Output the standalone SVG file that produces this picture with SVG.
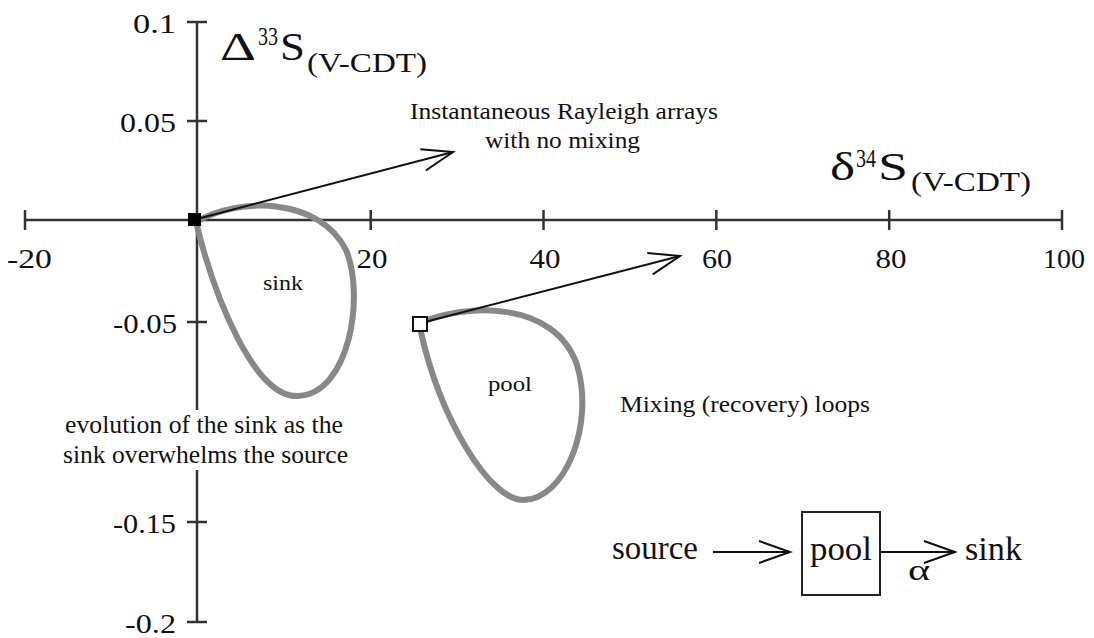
<svg xmlns="http://www.w3.org/2000/svg" width="1094" height="638" viewBox="0 0 1094 638">
<style>
text{font-family:"Liberation Serif","Times New Roman",serif;fill:#111}
.tick{font-size:28px}
.lbl{font-size:22.5px}
.big{font-size:34px}
.axis{stroke:#333;stroke-width:2.5;fill:none}
.loop{stroke:#888;stroke-width:6;fill:none}
.arr{stroke:#111;stroke-width:2;fill:none;marker-end:url(#ah)}
</style>
<defs>
<marker id="ah" markerUnits="userSpaceOnUse" markerWidth="40" markerHeight="30" refX="36" refY="15" orient="auto" viewBox="0 0 40 30">
<path d="M5,4 L36,15 L5,26" fill="none" stroke="#111" stroke-width="2"/>
</marker>
</defs>
<g id="axes">
<path class="axis" d="M25,220 H1062 M25,210 V230 M370.7,210 V230 M543.5,210 V230 M716.3,210 V230 M889.2,210 V230 M1062,210 V230"/>
<path class="axis" d="M197,22 V410 M197,470 V622 M187,22 H207 M187,121 H207 M187,322 H207 M187,522 H207 M187,622 H207"/>
<text class="tick" x="29.5" y="268" text-anchor="middle" textLength="45" lengthAdjust="spacingAndGlyphs">-20</text>
<text class="tick" x="372" y="268" text-anchor="middle" textLength="31" lengthAdjust="spacingAndGlyphs">20</text>
<text class="tick" x="545" y="268" text-anchor="middle" textLength="31" lengthAdjust="spacingAndGlyphs">40</text>
<text class="tick" x="717" y="268" text-anchor="middle" textLength="30" lengthAdjust="spacingAndGlyphs">60</text>
<text class="tick" x="891" y="268" text-anchor="middle" textLength="31" lengthAdjust="spacingAndGlyphs">80</text>
<text class="tick" x="1064" y="268" text-anchor="middle" textLength="42" lengthAdjust="spacingAndGlyphs">100</text>
<text class="tick" x="176" y="33" text-anchor="end" textLength="43" lengthAdjust="spacingAndGlyphs">0.1</text>
<text class="tick" x="176" y="132" text-anchor="end" textLength="56" lengthAdjust="spacingAndGlyphs">0.05</text>
<text class="tick" x="177" y="333" text-anchor="end" textLength="64" lengthAdjust="spacingAndGlyphs">-0.05</text>
<text class="tick" x="176" y="533" text-anchor="end" textLength="63" lengthAdjust="spacingAndGlyphs">-0.15</text>
<text class="tick" x="176" y="633" text-anchor="end" textLength="51" lengthAdjust="spacingAndGlyphs">-0.2</text>
</g>
<g id="y-title">
<text x="220" y="60" style="font-size:41px" textLength="36" lengthAdjust="spacingAndGlyphs">Δ</text>
<text x="258" y="45" style="font-size:25px" textLength="20" lengthAdjust="spacingAndGlyphs">33</text>
<text x="280" y="60" style="font-size:41px" textLength="25" lengthAdjust="spacingAndGlyphs">S</text>
<text x="307" y="72" style="font-size:27px" textLength="120" lengthAdjust="spacingAndGlyphs">(V-CDT)</text>
</g>
<g id="x-title">
<text x="830" y="180" style="font-size:41px" textLength="25" lengthAdjust="spacingAndGlyphs">δ</text>
<text x="856" y="167" style="font-size:25px" textLength="20" lengthAdjust="spacingAndGlyphs">34</text>
<text x="878" y="180" style="font-size:41px" textLength="30" lengthAdjust="spacingAndGlyphs">S</text>
<text x="911" y="191" style="font-size:27px" textLength="120" lengthAdjust="spacingAndGlyphs">(V-CDT)</text>
</g>
<g id="sink-loop">
<path class="loop" d="M196,222 C240,196 320,198 346,250 C365,295 350,395 297,396 C255,397 215,300 196,222 Z"/>
<text x="263" y="290" style="font-size:21px" textLength="40" lengthAdjust="spacingAndGlyphs">sink</text>
</g>
<g id="pool-loop">
<path class="loop" d="M420,323 C465,303 555,300 577,365 C595,425 565,500 523,500 C490,500 440,420 420,328"/>
<text x="488" y="391" style="font-size:21px" textLength="44" lengthAdjust="spacingAndGlyphs">pool</text>
</g>
<g id="connectors">
<path class="arr" d="M197,219 L453,152"/>
<path class="arr" d="M421,323 L680,256"/>
<path class="arr" d="M713,552 L790,552"/>
<path class="arr" d="M880,552 L955,552"/>
</g>
<g id="sink-point"><rect x="188" y="213" width="13" height="13" fill="#000"/></g>
<g id="pool-point"><rect x="413" y="317" width="14" height="14" fill="#fff" stroke="#111" stroke-width="2"/></g>
<g id="labels">
<text class="lbl" x="410" y="119" textLength="308" lengthAdjust="spacingAndGlyphs">Instantaneous Rayleigh arrays</text>
<text class="lbl" x="485" y="148" textLength="155" lengthAdjust="spacingAndGlyphs">with no mixing</text>
<text class="lbl" x="620" y="412" textLength="250" lengthAdjust="spacingAndGlyphs">Mixing (recovery) loops</text>
<text x="65" y="433" style="font-size:24.5px" textLength="278" lengthAdjust="spacingAndGlyphs">evolution of the sink as the</text>
<text x="63" y="463" style="font-size:24.5px" textLength="285" lengthAdjust="spacingAndGlyphs">sink overwhelms the source</text>
</g>
<g id="schema">
<text class="big" x="612" y="559" textLength="86" lengthAdjust="spacingAndGlyphs">source</text>
<rect x="802" y="512" width="78" height="83" fill="none" stroke="#222" stroke-width="2"/>
<text class="big" x="810" y="560" textLength="62" lengthAdjust="spacingAndGlyphs">pool</text>
<text x="908" y="580" style="font-size:30px" textLength="22" lengthAdjust="spacingAndGlyphs">α</text>
<text class="big" x="965" y="560" textLength="57" lengthAdjust="spacingAndGlyphs">sink</text>
</g>
</svg>
